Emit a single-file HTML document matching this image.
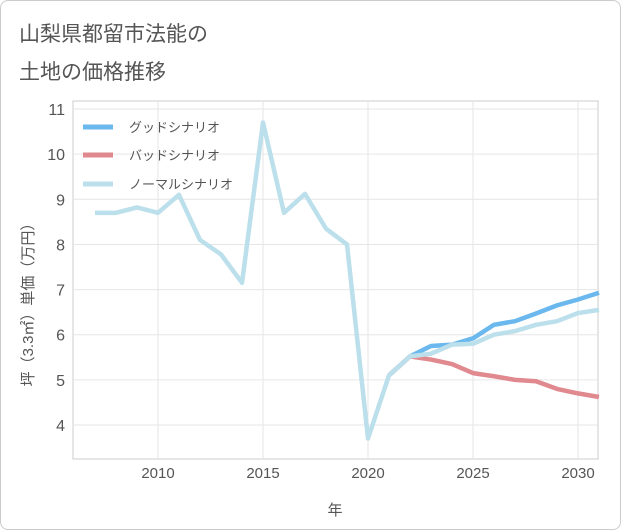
<!DOCTYPE html>
<html><head><meta charset="utf-8"><style>
body{margin:0;background:#fff;font-family:"Liberation Sans","Noto Sans CJK JP",sans-serif}
#wrap{position:relative;width:619px;height:528px;border:1px solid #ccc;border-radius:8px;overflow:hidden}
</style></head><body>
<div id="wrap">
<svg id="c" width="619" height="528"></svg>
</div>
<script>
const years=[2007,2008,2009,2010,2011,2012,2013,2014,2015,2016,2017,2018,2019,2020,2021,2022,2023,2024,2025,2026,2027,2028,2029,2030,2031];
const normal=[8.7,8.7,8.82,8.7,9.1,8.1,7.78,7.15,10.7,8.7,9.12,8.35,8.0,3.7,5.1,5.52,5.58,5.78,5.8,6.0,6.08,6.22,6.3,6.48,6.55];
const goodYears=[2021,2022,2023,2024,2025,2026,2027,2028,2029,2030,2031];
const good=[5.1,5.52,5.75,5.78,5.92,6.22,6.3,6.47,6.65,6.78,6.93];
const bad=[5.1,5.52,5.45,5.35,5.15,5.08,5.0,4.97,4.8,4.7,4.62];
const xTicks=[2010,2015,2020,2025,2030];
const yTicks=[4,5,6,7,8,9,10,11];
const NS="http://www.w3.org/2000/svg";
const svg=document.getElementById('c');
const X0=72,X1=597,Y0=100,Y1=458;
const x=v=>157+(v-2010)*21;
const y=v=>424-(v-4)*45.14;
function el(t,a,p){const e=document.createElementNS(NS,t);for(const k in a)e.setAttribute(k,a[k]);(p||svg).appendChild(e);return e;}
function txt(s,a){const e=el('text',a);e.textContent=s;return e;}
let t=txt('山梨県都留市法能の',{x:18,y:40,'font-size':21,fill:'#555'});

t=txt('土地の価格推移',{x:18,y:78,'font-size':21,fill:'#555'});

let r=el('rect',{x:X0,y:Y0,width:X1-X0,height:Y1-Y0,fill:'none',stroke:'#ccc'});

xTicks.forEach(v=>{let l=el('line',{x1:x(v),x2:x(v),y1:Y0,y2:Y1,stroke:'#e6e6e6'});

let s=txt(v,{x:x(v),y:477,'font-size':15,fill:'#555','text-anchor':'middle'});
});
yTicks.forEach(v=>{let l=el('line',{x1:X0,x2:X1,y1:y(v),y2:y(v),stroke:'#e6e6e6'});

let s=txt(v,{x:64,y:y(v)+6,'font-size':16,fill:'#555','text-anchor':'end'});
});
t=txt('年',{x:334,y:514,'font-size':15,fill:'#555','text-anchor':'middle'});

t=txt('坪（3.3㎡）単価（万円）',{x:0,y:0,'font-size':15,fill:'#555','text-anchor':'middle',transform:'translate(32,300) rotate(-90)'});

function line(xs,vs,c,name){const d=xs.map((v,i)=>(i?'L':'M')+x(v)+','+y(vs[i])).join('');
const p=el('path',{d:d,fill:'none',stroke:c,'stroke-width':4.5,'stroke-linejoin':'round'});
}
line(goodYears,good,'#6bb8ee','good-scenario-line');
line(goodYears,bad,'#e0898f','bad-scenario-line');
line(years,normal,'#bcdfec','normal-scenario-line');
[['グッドシナリオ','#6bb8ee',126],['バッドシナリオ','#e0898f',154],['ノーマルシナリオ','#bcdfec',183]].forEach(([n,c,yy])=>{
const g=el('g',{});
el('line',{x1:82,x2:112,y1:yy,y2:yy,stroke:c,'stroke-width':5},g);
const s=el('text',{x:128,y:yy+5,'font-size':13,fill:'#555'},g);s.textContent=n;});
</script>
</body></html>
